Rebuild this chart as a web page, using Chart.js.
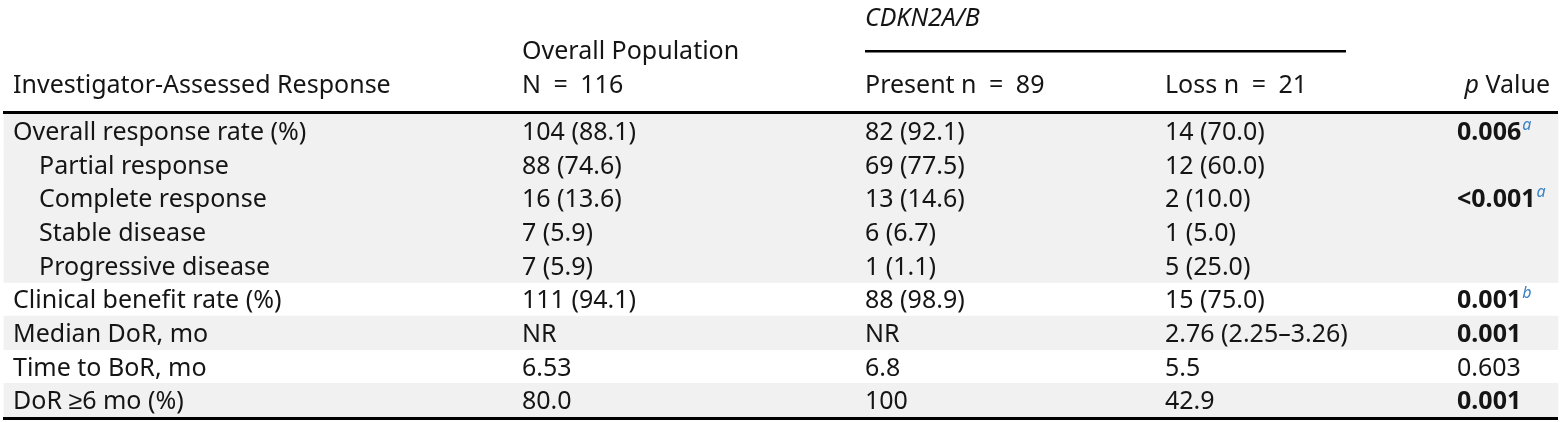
<!DOCTYPE html>
<html>
<head>
<meta charset="utf-8">
<script src="https://cdn.jsdelivr.net/npm/chart.js@4.4.1/dist/chart.umd.min.js"></script>
<style>
  html, body { margin: 0; padding: 0; background: #ffffff; }
  #wrap { width: 1562px; height: 422px; position: relative; }
</style>
</head>
<body>
<div id="wrap"><canvas id="tabela"></canvas></div>
<script>
// table content
const rowLabels = [
    "Overall response rate (%)",
    "Partial response",
    "Complete response",
    "Stable disease",
    "Progressive disease",
    "Clinical benefit rate (%)",
    "Median DoR, mo",
    "Time to BoR, mo",
    "DoR \u22656 mo (%)",
];
const subRows = [false, true, true, true, true, false, false, false, false];
const overallPop = ["104 (88.1)", "88 (74.6)", "16 (13.6)", "7 (5.9)", "7 (5.9)", "111 (94.1)", "NR", "6.53", "80.0"];
const cdknPresent = ["82 (92.1)", "69 (77.5)", "13 (14.6)", "6 (6.7)", "1 (1.1)", "88 (98.9)", "NR", "6.8", "100"];
const cdknLoss = ["14 (70.0)", "12 (60.0)", "2 (10.0)", "1 (5.0)", "5 (25.0)", "15 (75.0)", "2.76 (2.25\u20133.26)", "5.5", "42.9"];
const pValues = ["0.006", "", "<0.001", "", "", "0.001", "0.001", "0.603", "0.001"];
const pNotes = ["a", "", "a", "", "", "b", "", "", ""];
const pBold = [true, false, true, false, false, true, true, false, true];
const shadedRows = [true, true, true, true, true, false, true, false, true];

const headers = {
    first: "Investigator-Assessed Response",
    overall: ["Overall Population", "N\u2002=\u2002116"],
    group: "CDKN2A/B",
    present: "Present n\u2002=\u200289",
    loss: "Loss n\u2002=\u200221",
    p: ["p", " Value"],
};

const FONT = "'Noto Sans', sans-serif";
const FS = 25;
const TXT = "#151515";
const NOTE = "#3b82c4";
const TABLE_W = 1562;
const colX = [13, 522, 865, 1165, 1457];

function setFont(ctx, style, weight, size) {
    ctx.font = style + " " + weight + " " + size + "px " + FONT;
}

function drawNote(ctx, note, x, y) {
    setFont(ctx, "italic", "normal", 16);
    ctx.fillStyle = NOTE;
    ctx.fillText(note, x + 1, y - 10);
    ctx.fillStyle = TXT;
}

const tablePlugin = {
    id: "tableText",
    afterDatasetsDraw(chart) {
        const { ctx, scales: { x, y }, chartArea } = chart;
        const top = chartArea.top;
        ctx.save();
        ctx.textBaseline = "alphabetic";
        ctx.textAlign = "left";
        ctx.fillStyle = TXT;

        // corpo
        rowLabels.forEach((label, i) => {
            const base = y.getPixelForValue(i) + 9;
            setFont(ctx, "normal", "normal", FS);
            ctx.fillText(label, x.getPixelForValue(colX[0] + (subRows[i] ? 26 : 0)), base);
            ctx.fillText(overallPop[i], x.getPixelForValue(colX[1]), base);
            ctx.fillText(cdknPresent[i], x.getPixelForValue(colX[2]), base);
            ctx.fillText(cdknLoss[i], x.getPixelForValue(colX[3]), base);
            if (pValues[i]) {
                setFont(ctx, "normal", pBold[i] ? "bold" : "normal", FS);
                const px = x.getPixelForValue(colX[4]);
                ctx.fillText(pValues[i], px, base);
                if (pNotes[i]) {
                    const w = ctx.measureText(pValues[i]).width;
                    drawNote(ctx, pNotes[i], px + w, base);
                }
            }
        });

        // cabecalho
        setFont(ctx, "normal", "normal", FS);
        const h2 = top - 21;
        const h1 = top - 55;
        ctx.fillText(headers.first, x.getPixelForValue(colX[0]), h2);
        ctx.fillText(headers.overall[0], x.getPixelForValue(colX[1]), h1);
        ctx.fillText(headers.overall[1], x.getPixelForValue(colX[1]), h2);
        ctx.fillText(headers.present, x.getPixelForValue(colX[2]), h2);
        ctx.fillText(headers.loss, x.getPixelForValue(colX[3]), h2);
        const rightEdge = x.getPixelForValue(1550);
        ctx.textAlign = "right";
        const vw = ctx.measureText(headers.p[1]).width;
        ctx.fillText(headers.p[1], rightEdge, h2);
        setFont(ctx, "italic", "normal", FS);
        ctx.fillText(headers.p[0], rightEdge - vw, h2);
        ctx.textAlign = "left";
        ctx.fillText(headers.group, x.getPixelForValue(colX[2]), top - 88);

        // linhas
        ctx.strokeStyle = "#000000";
        ctx.lineWidth = 3;
        ctx.beginPath();
        ctx.moveTo(x.getPixelForValue(3), top - 1.5);
        ctx.lineTo(x.getPixelForValue(1558), top - 1.5);
        ctx.moveTo(x.getPixelForValue(3), chartArea.bottom + 1.5);
        ctx.lineTo(x.getPixelForValue(1558), chartArea.bottom + 1.5);
        ctx.stroke();
        ctx.lineWidth = 2.5;
        ctx.beginPath();
        ctx.moveTo(x.getPixelForValue(865), top - 62.8);
        ctx.lineTo(x.getPixelForValue(1346), top - 62.8);
        ctx.stroke();
        ctx.restore();
    },
};

new Chart(document.getElementById("tabela").getContext("2d"), {
    type: "bar",
    data: {
        labels: rowLabels,
        datasets: [
            {
                data: shadedRows.map((s) => (s ? [4, 1558] : null)),
                backgroundColor: "#f1f1f1",
                borderWidth: 0,
                barPercentage: 1,
                categoryPercentage: 1,
            },
        ],
    },
    options: {
        indexAxis: "y",
        responsive: true,
        maintainAspectRatio: false,
        animation: false,
        layout: { padding: { top: 114, bottom: 5, left: 0, right: 0 } },
        plugins: { legend: { display: false }, tooltip: { enabled: false } },
        scales: {
            x: { type: "linear", min: 0, max: TABLE_W, display: false },
            y: { type: "category", display: false, offset: true },
        },
    },
    plugins: [tablePlugin],
});
</script>
</body>
</html>
